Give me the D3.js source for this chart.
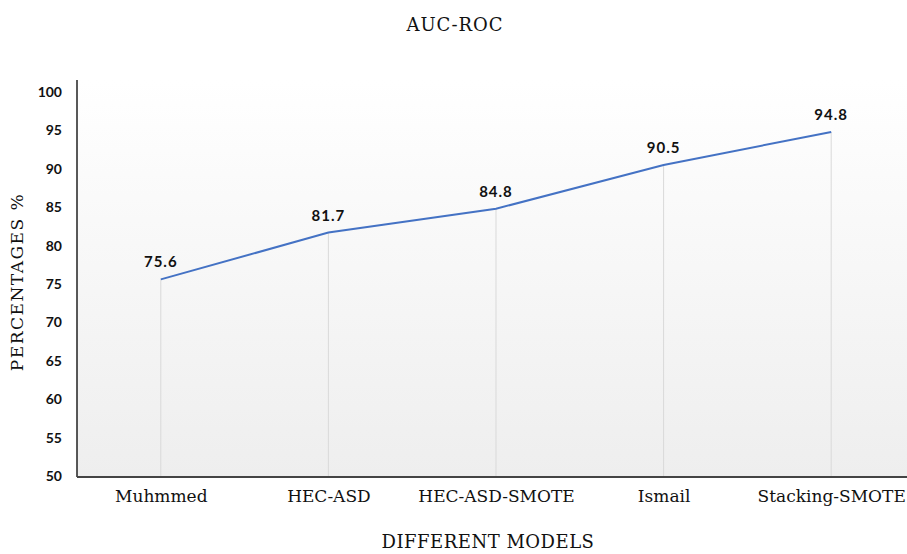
<!DOCTYPE html>
<html>
<head>
<meta charset="utf-8">
<script src="https://cdn.jsdelivr.net/npm/d3@7"></script>
<style>
  body { margin: 0; background: #fff; }
  svg { display: block; }
</style>
</head>
<body>
<svg id="chart"></svg>
<script>
const models = ["Muhmmed", "HEC-ASD", "HEC-ASD-SMOTE", "Ismail", "Stacking-SMOTE"];
const aucRoc = [75.6, 81.7, 84.8, 90.5, 94.8];
const yTicks = [50, 55, 60, 65, 70, 75, 80, 85, 90, 95, 100];

const width = 907, height = 554;
const plotLeft = 77, plotTop = 80, plotBottom = 477, plotRight = 915;
const serif = "'DejaVu Serif', 'Liberation Serif', serif";

let svg = d3.select("#chart")
  .attr("width", width)
  .attr("height", height);

let grad = svg.append("defs").append("linearGradient")
  .attr("id", "bg")
  .attr("x1", 0).attr("y1", 0).attr("x2", 0).attr("y2", 1);
grad.append("stop").attr("offset", "0%").attr("stop-color", "#ffffff");
grad.append("stop").attr("offset", "100%").attr("stop-color", "#eeeeee");

svg.append("rect")
  .attr("x", plotLeft).attr("y", plotTop)
  .attr("width", plotRight - plotLeft).attr("height", plotBottom - plotTop)
  .attr("fill", "url(#bg)");

let x = d3.scalePoint()
  .domain(models)
  .range([plotLeft, plotRight])
  .padding(0.5);

let y = d3.scaleLinear()
  .domain([50, 100])
  .range([476, 92]);

// drop lines
svg.append("g").selectAll("line")
  .data(models)
  .join("line")
  .attr("x1", d => x(d)).attr("x2", d => x(d))
  .attr("y1", (d, i) => y(aucRoc[i]))
  .attr("y2", plotBottom)
  .attr("stroke", "#d9d9d9")
  .attr("stroke-width", 1);

// y axis
let yAxis = svg.append("g")
  .attr("transform", `translate(${plotLeft},0)`)
  .call(d3.axisLeft(y).tickValues(yTicks).tickSize(0).tickPadding(15));
yAxis.select(".domain").remove();
yAxis.selectAll("text")
  .attr("font-family", "Lato, 'Open Sans', sans-serif")
  .attr("font-weight", "bold")
  .attr("font-size", 14)
  .attr("fill", "#111");

svg.append("line")
  .attr("x1", plotLeft).attr("x2", plotLeft)
  .attr("y1", plotTop).attr("y2", plotBottom)
  .attr("stroke", "#222").attr("stroke-width", 1.5);

// x axis
let xAxis = svg.append("g")
  .attr("transform", `translate(0,${plotBottom})`)
  .call(d3.axisBottom(x).tickSize(0).tickPadding(13));
xAxis.select(".domain").remove();
xAxis.selectAll("text")
  .attr("font-family", serif)
  .attr("font-size", 17)
  .attr("fill", "#111");

svg.append("line")
  .attr("x1", plotLeft).attr("x2", plotRight)
  .attr("y1", plotBottom).attr("y2", plotBottom)
  .attr("stroke", "#444").attr("stroke-width", 2);

// line
let line = d3.line()
  .x((d, i) => x(models[i]))
  .y(d => y(d));

svg.append("path")
  .datum(aucRoc)
  .attr("d", line)
  .attr("fill", "none")
  .attr("stroke", "#4472c4")
  .attr("stroke-width", 2);

// data labels
svg.append("g").selectAll("text")
  .data(aucRoc)
  .join("text")
  .attr("x", (d, i) => x(models[i]))
  .attr("y", d => y(d) - 12)
  .attr("text-anchor", "middle")
  .attr("font-family", "Lato, 'Open Sans', sans-serif")
  .attr("font-weight", "bold")
  .attr("font-size", 15)
  .attr("letter-spacing", 1)
  .attr("fill", "#111")
  .text(d => d.toFixed(1));

// titles
svg.append("text")
  .attr("x", 455).attr("y", 31)
  .attr("text-anchor", "middle")
  .attr("font-family", serif)
  .attr("font-size", 18)
  .attr("letter-spacing", 1)
  .attr("fill", "#111")
  .text("AUC-ROC");

svg.append("text")
  .attr("transform", "translate(23,282) rotate(-90)")
  .attr("text-anchor", "middle")
  .attr("font-family", serif)
  .attr("font-size", 17)
  .attr("letter-spacing", 1.5)
  .attr("fill", "#111")
  .text("PERCENTAGES %");

svg.append("text")
  .attr("x", 488).attr("y", 548)
  .attr("text-anchor", "middle")
  .attr("font-family", serif)
  .attr("font-size", 18)
  .attr("letter-spacing", 0.5)
  .attr("fill", "#111")
  .text("DIFFERENT MODELS");
</script>
</body>
</html>
